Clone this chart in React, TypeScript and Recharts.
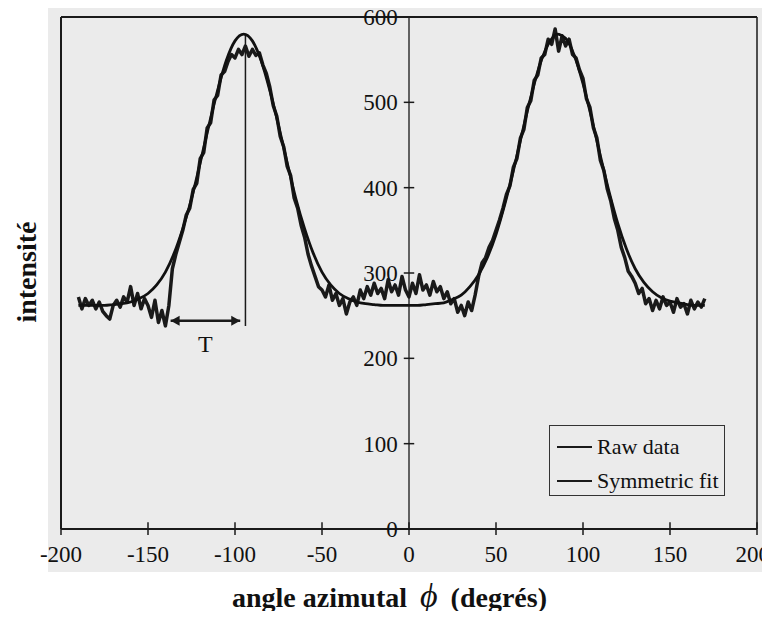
import React from 'react';
import { LineChart, Line, XAxis, YAxis, ReferenceLine, Legend } from 'recharts';

// azimuthal scan, raw counts sampled every 2 degrees from -190
const RAW_START = -190;
const RAW_STEP = 2;
const rawIntensity = [
  272, 258, 270, 262, 268, 258, 266, 255, 250, 246,
  262, 268, 260, 272, 266, 284, 262, 276, 258, 270,
  262, 248, 268, 242, 256, 238, 262, 305, 322, 336,
  350, 368, 376, 398, 405, 434, 441, 470, 476, 503,
  508, 532, 536, 548, 556, 552, 562, 556, 566, 554,
  562, 555, 558, 544, 534, 518, 496, 484, 460, 448,
  425, 414, 388, 376, 356, 342, 322, 308, 296, 284,
  280, 272, 286, 268, 276, 262, 270, 252, 266, 272,
  262, 280, 270, 284, 274, 288, 276, 282, 270, 292,
  278, 286, 274, 296, 280, 272, 288, 276, 298, 280,
  286, 274, 290, 278, 284, 270, 278, 264, 270, 254,
  262, 250, 266, 256, 274, 296, 312, 318, 330, 338,
  350, 362, 376, 392, 402, 424, 434, 458, 468, 494,
  502, 526, 532, 552, 556, 574, 568, 586, 560, 578,
  566, 574, 556, 552, 538, 528, 504, 494, 470, 458,
  432, 420, 398, 384, 364, 350, 330, 318, 302, 296,
  288, 276, 282, 264, 270, 256, 268, 258, 272, 262,
  266, 254, 270, 260, 264, 252, 268, 258, 266, 260,
  270,
];

// fitted curve read every 5 degrees from -190
const FIT_START = -190;
const FIT_STEP = 5;
const fitIntensity = [
  262, 262, 262, 262, 263, 264, 266, 270, 276, 286,
  301, 323, 352, 387, 429, 473, 514, 549, 572, 580,
  572, 549, 514, 473, 429, 387, 352, 323, 301, 286,
  276, 270, 266, 264, 263, 262, 262, 262, 262,
  262, 263, 264, 265, 269, 274, 284, 298, 318, 345,
  380, 420, 464, 506, 543, 568, 580, 575, 555, 522,
  481, 437, 395, 358, 328, 305, 289, 278, 271, 267,
  265, 263, 262, 262,
];

const xTicks = [-200, -150, -100, -50, 0, 50, 100, 150, 200];
const yTicks = [0, 100, 200, 300, 400, 500, 600];
const seriesNames = ['Raw data', 'Symmetric fit'];

const peakAngle = -94;
const peakMarkerRange = [238, 580];
const widthArrow = { from: -137, to: -97, level: 244, text: 'T' };

const rawData = rawIntensity.map((v, i) => ({ x: RAW_START + i * RAW_STEP, y: v }));
const fitData = fitIntensity.map((v, i) => ({ x: FIT_START + i * FIT_STEP, y: v }));

const ink = '#1a1a1a';
const serif = '"Liberation Serif", "Times New Roman", serif';

const ArrowShape = (props: any) => {
  const { x1, y1, x2, y2 } = props;
  const h = 5;
  const l = 9;
  return (
    <g>
      <line x1={x1} y1={y1} x2={x2} y2={y2} stroke={ink} strokeWidth={2.5} />
      <polygon points={`${x1},${y1} ${x1 + l},${y1 - h} ${x1 + l},${y1 + h}`} fill={ink} />
      <polygon points={`${x2},${y2} ${x2 - l},${y2 - h} ${x2 - l},${y2 + h}`} fill={ink} />
    </g>
  );
};

const LegendBox = (props: any) => {
  const names = props.payload && props.payload.length ? props.payload.map((p: any) => p.value) : seriesNames;
  return (
    <div
      style={{
        width: 176,
        height: 71,
        border: '1.5px solid #333',
        boxSizing: 'border-box',
        paddingTop: 4,
        fontFamily: serif,
        fontSize: 22,
        color: '#111',
      }}
    >
      {names.map((n: string) => (
        <div key={n} style={{ display: 'flex', alignItems: 'center', height: 34 }}>
          <span style={{ display: 'inline-block', width: 35, height: 2, background: ink, marginLeft: 7, marginRight: 5 }} />
          <span style={{ whiteSpace: 'nowrap' }}>{n}</span>
        </div>
      ))}
    </div>
  );
};

export default function App() {
  return (
    <div style={{ position: 'relative', width: 770, height: 611, marginLeft: -8, marginTop: -8 }}>
      <div style={{ position: 'absolute', left: 48, top: 8, width: 722, height: 564, background: '#ebebeb' }} />
      <div style={{ position: 'absolute', left: 0, top: 0 }}>
        <LineChart
          width={770}
          height={611}
          margin={{ top: 17, right: 13, left: 61, bottom: 52 }}
          style={{ overflow: 'visible' }}
        >
          <XAxis
            type="number"
            dataKey="x"
            domain={[-200, 200]}
            ticks={xTicks}
            height={30}
            axisLine={{ stroke: ink, strokeWidth: 2 }}
            tickLine={{ stroke: ink, strokeWidth: 1.5 }}
            tickSize={6}
            tickMargin={11}
            tick={{ fontSize: 23, fill: '#111', fontFamily: serif }}
          />
          <YAxis hide type="number" domain={[0, 600]} />

          {/* frame */}
          <ReferenceLine y={600} stroke={ink} strokeWidth={2} />
          <ReferenceLine x={-200} stroke={ink} strokeWidth={2} />
          <ReferenceLine x={200} stroke={ink} strokeWidth={1.5} />

          {/* y axis drawn at zero */}
          <ReferenceLine x={0} stroke="#333" strokeWidth={1.5} />
          {yTicks.map((t) => (
            <ReferenceLine
              key={`yt${t}`}
              segment={[{ x: -3, y: t }, { x: 3, y: t }]}
              stroke={ink}
              strokeWidth={1.5}
              label={{ value: String(t), position: 'left', offset: 6, fontSize: 23, fill: '#111', fontFamily: serif }}
            />
          ))}
          {xTicks.map((t) => (
            <ReferenceLine key={`xt${t}`} segment={[{ x: t, y: 0 }, { x: t, y: 8 }]} stroke={ink} strokeWidth={1.5} />
          ))}

          <ReferenceLine
            segment={[{ x: peakAngle, y: peakMarkerRange[0] }, { x: peakAngle, y: peakMarkerRange[1] }]}
            stroke={ink}
            strokeWidth={1.5}
          />
          <ReferenceLine
            segment={[{ x: widthArrow.from, y: widthArrow.level }, { x: widthArrow.to, y: widthArrow.level }]}
            shape={ArrowShape}
            label={{ value: widthArrow.text, position: 'bottom', offset: 14, fontSize: 24, fill: '#111', fontFamily: serif }}
          />

          <Line
            name={seriesNames[0]}
            data={rawData}
            dataKey="y"
            type="linear"
            stroke={ink}
            strokeWidth={3.5}
            strokeLinejoin="round"
            dot={false}
            isAnimationActive={false}
          />
          <Line
            name={seriesNames[1]}
            data={fitData}
            dataKey="y"
            type="monotone"
            stroke="#111"
            strokeWidth={2.8}
            dot={false}
            isAnimationActive={false}
          />
          <Legend
            layout="horizontal"
            verticalAlign="middle"
            align="center"
            wrapperStyle={{ left: 549, top: 425, width: 176, height: 71 }}
            content={(p: any) => <LegendBox payload={p.payload} />}
          />
        </LineChart>
      </div>

      <div
        style={{
          position: 'absolute',
          left: 27,
          top: 272,
          transform: 'translate(-50%, -50%) rotate(-90deg)',
          fontFamily: serif,
          fontWeight: 'bold',
          fontSize: 28,
          whiteSpace: 'nowrap',
          color: '#111',
        }}
      >
        intensité
      </div>
      <div
        style={{
          position: 'absolute',
          left: 232,
          top: 581,
          fontFamily: serif,
          fontWeight: 'bold',
          fontSize: 28,
          lineHeight: '30px',
          whiteSpace: 'nowrap',
          color: '#111',
        }}
      >
        angle azimutal{' '}
        <span style={{ fontStyle: 'italic', fontWeight: 'normal', fontSize: 34, margin: '0 6px' }}>ϕ</span>{' '}
        (degrés)
      </div>
    </div>
  );
}
